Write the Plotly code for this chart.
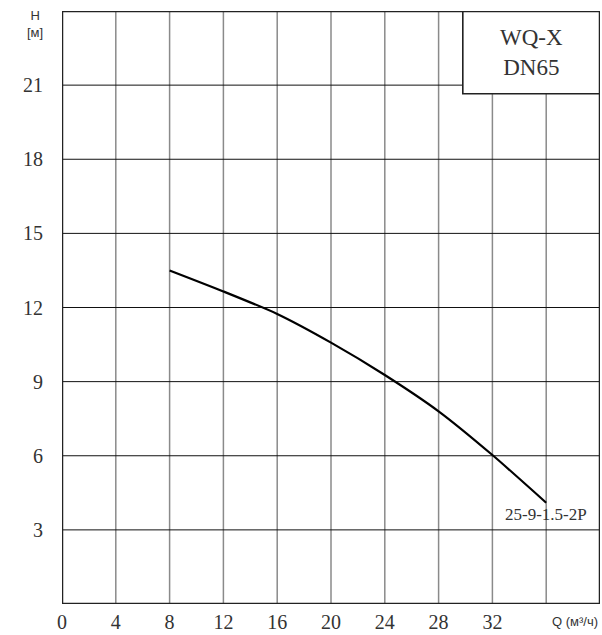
import plotly.graph_objects as go

# Pump performance curve: head H (m) vs flow Q (m³/h)
q_values = [8, 12, 16, 20, 24, 28, 32, 36]
h_values = [13.5, 12.65, 11.74, 10.58, 9.27, 7.8, 6.03, 4.1]

x_ticks = [0, 4, 8, 12, 16, 20, 24, 28, 32]
y_ticks = [3, 6, 9, 12, 15, 18, 21]
v_grid = [4, 8, 12, 16, 20, 24, 28, 32, 36]
h_grid = [3, 6, 9, 12, 15, 18, 21]

model_lines = ["WQ-X", "DN65"]
curve_label = "25-9-1.5-2P"

serif = "Liberation Serif"
sans = "Liberation Sans"

fig = go.Figure()

# grid lines drawn as shapes so they can sit below the curve
shapes = []
for gx in v_grid:
    shapes.append(dict(type="line", xref="x", yref="y", x0=gx, x1=gx, y0=0, y1=24,
                       line=dict(color="#8a8a8a", width=1.5), layer="below"))
for gy in h_grid:
    shapes.append(dict(type="line", xref="x", yref="y", x0=0, x1=40, y0=gy, y1=gy,
                       line=dict(color="#111111", width=1), layer="below"))
# model box in the upper right corner
shapes.append(dict(type="rect", xref="x", yref="y", x0=29.8, x1=40, y0=20.65, y1=24,
                   fillcolor="white", line=dict(color="#222222", width=1.6), layer="above"))
# plot frame
shapes.append(dict(type="rect", xref="x", yref="y", x0=0, x1=40, y0=0, y1=24,
                   line=dict(color="#222222", width=2.5), layer="above"))

fig.add_trace(go.Scatter(
    x=q_values, y=h_values, mode="lines",
    line=dict(color="black", width=2.2, shape="spline", smoothing=0.6),
    showlegend=False, hoverinfo="skip",
))

annotations = [
    dict(x=(29.8 + 40) / 2, y=(20.65 + 24) / 2, xref="x", yref="y",
         text="<br>".join(model_lines), showarrow=False,
         font=dict(family=serif, size=23, color="#333333")),
    dict(x=q_values[-1], y=h_values[-1], xref="x", yref="y", yshift=-12,
         text=curve_label, showarrow=False, xanchor="center", yanchor="middle",
         font=dict(family=serif, size=17, color="#333333")),
    dict(xref="paper", yref="paper", x=-0.05, y=1.008, xanchor="center",
         yanchor="top", text="H<br>[м]", showarrow=False,
         font=dict(family=sans, size=13, color="#333333")),
    dict(xref="paper", yref="paper", x=1.0, y=-0.03, xanchor="right", xshift=-1,
         yanchor="middle", text="Q (м³/ч)", showarrow=False, borderpad=0,
         font=dict(family=sans, size=13, color="#333333")),
]

fig.update_layout(
    width=602, height=635,
    margin=dict(l=62, r=2, t=11, b=31),
    plot_bgcolor="white", paper_bgcolor="white",
    shapes=shapes, annotations=annotations,
    xaxis=dict(range=[0, 40], tickvals=x_ticks, ticktext=[str(v) for v in x_ticks],
               showgrid=False, zeroline=False, showline=False, ticks="",
               ticklabelstandoff=4,
               tickfont=dict(family=serif, size=20, color="#333333")),
    yaxis=dict(range=[0, 24], tickvals=y_ticks, ticktext=[str(v) for v in y_ticks],
               showgrid=False, zeroline=False, showline=False, ticks="",
               ticklabelstandoff=18,
               tickfont=dict(family=serif, size=20, color="#333333")),
)

fig.write_html("out.html")
